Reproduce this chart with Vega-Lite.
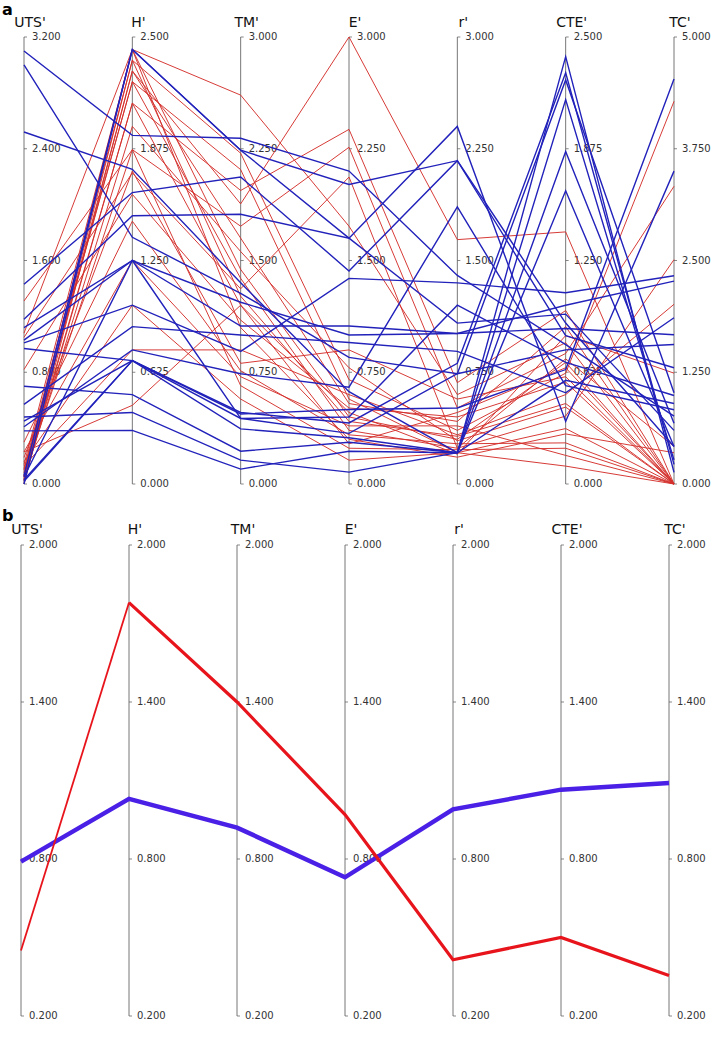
{
  "$schema": "https://vega.github.io/schema/vega-lite/v6.json",
  "width": 711,
  "height": 1041,
  "autosize": {"type": "none"},
  "padding": 0,
  "background": "white",
  "config": {"view": {"stroke": null}, "text": {"font": "DejaVu Sans"}},
  "datasets": {
    "axesA": [
      {"key": "U", "title": "UTS'", "min": 0, "max": 3.2, "i": 0},
      {"key": "H", "title": "H'", "min": 0, "max": 2.5, "i": 1},
      {"key": "TM", "title": "TM'", "min": 0, "max": 3, "i": 2},
      {"key": "E", "title": "E'", "min": 0, "max": 3, "i": 3},
      {"key": "r", "title": "r'", "min": 0, "max": 3, "i": 4},
      {"key": "CTE", "title": "CTE'", "min": 0, "max": 2.5, "i": 5},
      {"key": "TC", "title": "TC'", "min": 0, "max": 5, "i": 6}
    ],
    "axesB": [
      {"key": "U", "title": "UTS'", "min": 0.2, "max": 2, "i": 0},
      {"key": "H", "title": "H'", "min": 0.2, "max": 2, "i": 1},
      {"key": "TM", "title": "TM'", "min": 0.2, "max": 2, "i": 2},
      {"key": "E", "title": "E'", "min": 0.2, "max": 2, "i": 3},
      {"key": "r", "title": "r'", "min": 0.2, "max": 2, "i": 4},
      {"key": "CTE", "title": "CTE'", "min": 0.2, "max": 2, "i": 5},
      {"key": "TC", "title": "TC'", "min": 0.2, "max": 2, "i": 6}
    ],
    "ticksA": [
      {"key": "U", "value": 0}, {"key": "U", "value": 0.8}, {"key": "U", "value": 1.6}, {"key": "U", "value": 2.4}, {"key": "U", "value": 3.2},
      {"key": "H", "value": 0}, {"key": "H", "value": 0.625}, {"key": "H", "value": 1.25}, {"key": "H", "value": 1.875}, {"key": "H", "value": 2.5},
      {"key": "TM", "value": 0}, {"key": "TM", "value": 0.75}, {"key": "TM", "value": 1.5}, {"key": "TM", "value": 2.25}, {"key": "TM", "value": 3},
      {"key": "E", "value": 0}, {"key": "E", "value": 0.75}, {"key": "E", "value": 1.5}, {"key": "E", "value": 2.25}, {"key": "E", "value": 3},
      {"key": "r", "value": 0}, {"key": "r", "value": 0.75}, {"key": "r", "value": 1.5}, {"key": "r", "value": 2.25}, {"key": "r", "value": 3},
      {"key": "CTE", "value": 0}, {"key": "CTE", "value": 0.625}, {"key": "CTE", "value": 1.25}, {"key": "CTE", "value": 1.875}, {"key": "CTE", "value": 2.5},
      {"key": "TC", "value": 0}, {"key": "TC", "value": 1.25}, {"key": "TC", "value": 2.5}, {"key": "TC", "value": 3.75}, {"key": "TC", "value": 5}
    ],
    "ticksB": [
      {"key": "U", "value": 0.2}, {"key": "U", "value": 0.8}, {"key": "U", "value": 1.4}, {"key": "U", "value": 2},
      {"key": "H", "value": 0.2}, {"key": "H", "value": 0.8}, {"key": "H", "value": 1.4}, {"key": "H", "value": 2},
      {"key": "TM", "value": 0.2}, {"key": "TM", "value": 0.8}, {"key": "TM", "value": 1.4}, {"key": "TM", "value": 2},
      {"key": "E", "value": 0.2}, {"key": "E", "value": 0.8}, {"key": "E", "value": 1.4}, {"key": "E", "value": 2},
      {"key": "r", "value": 0.2}, {"key": "r", "value": 0.8}, {"key": "r", "value": 1.4}, {"key": "r", "value": 2},
      {"key": "CTE", "value": 0.2}, {"key": "CTE", "value": 0.8}, {"key": "CTE", "value": 1.4}, {"key": "CTE", "value": 2},
      {"key": "TC", "value": 0.2}, {"key": "TC", "value": 0.8}, {"key": "TC", "value": 1.4}, {"key": "TC", "value": 2}
    ],
    "linesA": [
      {"id": "B1", "c": "blue", "U": 3.10, "H": 1.95, "TM": 2.32, "E": 2.10, "r": 1.40, "CTE": 0.78, "TC": 0.76},
      {"id": "B2", "c": "blue", "U": 3.00, "H": 1.38, "TM": 1.28, "E": 0.85, "r": 0.74, "CTE": 2.26, "TC": 1.02},
      {"id": "B3", "c": "blue", "U": 2.52, "H": 1.76, "TM": 1.35, "E": 0.62, "r": 0.21, "CTE": 2.15, "TC": 0.27},
      {"id": "B4", "c": "blue", "U": 1.43, "H": 1.63, "TM": 2.06, "E": 1.43, "r": 2.17, "CTE": 0.90, "TC": 0.42},
      {"id": "B5", "c": "blue", "U": 1.18, "H": 1.50, "TM": 1.81, "E": 1.65, "r": 2.40, "CTE": 0.35, "TC": 3.50},
      {"id": "B6", "c": "blue", "U": 1.12, "H": 1.25, "TM": 1.22, "E": 1.00, "r": 1.01, "CTE": 1.00, "TC": 2.27},
      {"id": "B7", "c": "blue", "U": 1.03, "H": 1.25, "TM": 1.06, "E": 1.06, "r": 1.01, "CTE": 0.87, "TC": 1.67},
      {"id": "B8", "c": "blue", "U": 1.01, "H": 1.00, "TM": 0.89, "E": 1.38, "r": 1.35, "CTE": 1.07, "TC": 2.33},
      {"id": "B9", "c": "blue", "U": 0.97, "H": 0.69, "TM": 0.48, "E": 0.41, "r": 0.81, "CTE": 2.30, "TC": 0.22},
      {"id": "B10", "c": "blue", "U": 0.70, "H": 0.50, "TM": 0.22, "E": 0.28, "r": 0.21, "CTE": 2.39, "TC": 0.13},
      {"id": "B11", "c": "blue", "U": 0.57, "H": 0.88, "TM": 1.00, "E": 0.95, "r": 0.89, "CTE": 0.51, "TC": 1.86},
      {"id": "B12", "c": "blue", "U": 0.48, "H": 0.40, "TM": 0.16, "E": 0.08, "r": 0.21, "CTE": 1.86, "TC": 0.68},
      {"id": "B13", "c": "blue", "U": 0.45, "H": 0.69, "TM": 0.47, "E": 0.50, "r": 0.51, "CTE": 0.64, "TC": 4.53},
      {"id": "B14", "c": "blue", "U": 0.41, "H": 0.75, "TM": 0.74, "E": 0.65, "r": 1.86, "CTE": 0.55, "TC": 0.83},
      {"id": "B15", "c": "blue", "U": 0.38, "H": 0.30, "TM": 0.10, "E": 0.22, "r": 0.21, "CTE": 1.64, "TC": 0.42},
      {"id": "B16", "c": "blue", "U": 0.06, "H": 2.43, "TM": 2.24, "E": 2.01, "r": 2.17, "CTE": 0.83, "TC": 1.30},
      {"id": "B17", "c": "blue", "U": 0.05, "H": 1.25, "TM": 0.44, "E": 0.34, "r": 0.74, "CTE": 0.75, "TC": 1.56},
      {"id": "B18", "c": "blue", "U": 0.03, "H": 0.69, "TM": 0.37, "E": 0.31, "r": 0.21, "CTE": 0.58, "TC": 0.90},
      {"id": "B19", "c": "blue", "U": 0.02, "H": 0.69, "TM": 0.44, "E": 0.45, "r": 1.20, "CTE": 0.68, "TC": 0.99},
      {"id": "B20", "c": "blue", "U": 0.00, "H": 2.43, "TM": 2.24, "E": 1.65, "r": 1.08, "CTE": 0.95, "TC": 0.60},
      {"id": "R1", "c": "red", "U": 0.06, "H": 2.43, "TM": 2.61, "E": 1.73, "r": 0.60, "CTE": 0.79, "TC": 0},
      {"id": "R2", "c": "red", "U": 0.03, "H": 2.37, "TM": 2.22, "E": 0.70, "r": 0.36, "CTE": 0.62, "TC": 4.28},
      {"id": "R3", "c": "red", "U": 0.00, "H": 2.31, "TM": 1.88, "E": 3.00, "r": 1.64, "CTE": 1.41, "TC": 0},
      {"id": "R4", "c": "red", "U": 0.10, "H": 2.25, "TM": 2.11, "E": 0.57, "r": 0.21, "CTE": 0.31, "TC": 0},
      {"id": "R5", "c": "red", "U": 0.02, "H": 2.13, "TM": 1.97, "E": 2.38, "r": 0.68, "CTE": 0.97, "TC": 0},
      {"id": "R6", "c": "red", "U": 1.31, "H": 1.87, "TM": 1.73, "E": 2.26, "r": 0.51, "CTE": 0.73, "TC": 3.33},
      {"id": "R7", "c": "red", "U": 1.08, "H": 2.43, "TM": 1.44, "E": 0.45, "r": 0.30, "CTE": 0.68, "TC": 0},
      {"id": "R8", "c": "red", "U": 1.05, "H": 1.74, "TM": 1.31, "E": 2.06, "r": 0.24, "CTE": 0.38, "TC": 2.51},
      {"id": "R9", "c": "red", "U": 0.82, "H": 1.62, "TM": 1.10, "E": 0.51, "r": 0.45, "CTE": 0.57, "TC": 0},
      {"id": "R10", "c": "red", "U": 0.30, "H": 1.47, "TM": 0.76, "E": 0.33, "r": 0.27, "CTE": 0.23, "TC": 0},
      {"id": "R11", "c": "red", "U": 0.23, "H": 1.25, "TM": 0.72, "E": 0.39, "r": 0.39, "CTE": 0.16, "TC": 0},
      {"id": "R12", "c": "red", "U": 0.16, "H": 1.00, "TM": 0.57, "E": 0.16, "r": 0.21, "CTE": 0.10, "TC": 0},
      {"id": "R13", "c": "red", "U": 0.13, "H": 0.75, "TM": 0.90, "E": 0.60, "r": 0.33, "CTE": 0.50, "TC": 2.01},
      {"id": "R14", "c": "red", "U": 0.23, "H": 0.44, "TM": 1.20, "E": 0.48, "r": 0.20, "CTE": 0.83, "TC": 1.24},
      {"id": "R15", "c": "red", "U": 0.05, "H": 2.31, "TM": 1.65, "E": 0.54, "r": 0.42, "CTE": 0.88, "TC": 0},
      {"id": "R16", "c": "red", "U": 0.08, "H": 2.25, "TM": 1.38, "E": 0.36, "r": 0.24, "CTE": 0.70, "TC": 0.42},
      {"id": "R17", "c": "red", "U": 0.11, "H": 2.37, "TM": 1.26, "E": 0.42, "r": 0.32, "CTE": 0.45, "TC": 0},
      {"id": "R18", "c": "red", "U": 0.03, "H": 2.00, "TM": 1.56, "E": 0.78, "r": 0.29, "CTE": 0.43, "TC": 0},
      {"id": "R19", "c": "red", "U": 0.14, "H": 2.43, "TM": 1.05, "E": 0.30, "r": 0.18, "CTE": 0.28, "TC": 0.35},
      {"id": "R20", "c": "red", "U": 0.04, "H": 2.13, "TM": 1.20, "E": 0.27, "r": 0.48, "CTE": 0.65, "TC": 0},
      {"id": "R21", "c": "red", "U": 0.19, "H": 1.75, "TM": 0.81, "E": 0.90, "r": 0.57, "CTE": 0.60, "TC": 0},
      {"id": "R22", "c": "red", "U": 0.06, "H": 1.87, "TM": 0.66, "E": 0.24, "r": 0.23, "CTE": 0.20, "TC": 0}
    ],
    "linesB": [
      {"id": "blue", "c": "blue", "U": 0.79, "H": 1.03, "TM": 0.92, "E": 0.73, "r": 0.99, "CTE": 1.065, "TC": 1.09},
      {"id": "red", "c": "red", "U": 0.45, "H": 1.78, "TM": 1.40, "E": 0.97, "r": 0.415, "CTE": 0.50, "TC": 0.355}
    ]
  },
  "layer": [
    {
      "layer": [
        {
          "data": {"name": "axesA"},
          "mark": {"type": "rule", "color": "#777777", "strokeWidth": 1},
          "encoding": {
            "x": {"field": "key", "type": "nominal", "scale": {"type": "point", "domain": ["U", "H", "TM", "E", "r", "CTE", "TC"], "range": [24, 674], "padding": 0}, "axis": null},
            "y": {"datum": 0, "type": "quantitative", "scale": {"domain": [0, 1], "range": [484, 37], "nice": false, "zero": false}, "axis": null},
            "y2": {"datum": 1}
          }
        },
        {
          "data": {"name": "ticksA"},
          "transform": [
            {"lookup": "key", "from": {"data": {"name": "axesA"}, "key": "key", "fields": ["min", "max"]}},
            {"calculate": "(datum.value - datum.min) / (datum.max - datum.min)", "as": "frac"}
          ],
          "mark": {"type": "tick", "orient": "horizontal", "size": 3, "thickness": 1, "xOffset": 1.5, "color": "#555555"},
          "encoding": {
            "x": {"field": "key", "type": "nominal"},
            "y": {"field": "frac", "type": "quantitative"}
          }
        },
        {
          "data": {"name": "ticksA"},
          "transform": [
            {"lookup": "key", "from": {"data": {"name": "axesA"}, "key": "key", "fields": ["min", "max"]}},
            {"calculate": "(datum.value - datum.min) / (datum.max - datum.min)", "as": "frac"}
          ],
          "mark": {"type": "text", "align": "left", "baseline": "middle", "dx": 8, "fontSize": 10, "color": "#333333"},
          "encoding": {
            "x": {"field": "key", "type": "nominal"},
            "y": {"field": "frac", "type": "quantitative"},
            "text": {"field": "value", "type": "quantitative", "format": ".3f"}
          }
        },
        {
          "data": {"name": "axesA"},
          "mark": {"type": "text", "align": "center", "baseline": "alphabetic", "dx": 6, "dy": -10, "fontSize": 14, "color": "#111111"},
          "encoding": {
            "x": {"field": "key", "type": "nominal"},
            "y": {"datum": 1, "type": "quantitative"},
            "text": {"field": "title", "type": "nominal"}
          }
        },
        {
          "data": {"values": [{"key": "U", "lab": "a"}]},
          "mark": {"type": "text", "align": "left", "baseline": "alphabetic", "dx": -22, "dy": -22, "fontSize": 16, "fontWeight": "bold", "color": "#000000"},
          "encoding": {
            "x": {"field": "key", "type": "nominal"},
            "y": {"datum": 1, "type": "quantitative"},
            "text": {"field": "lab", "type": "nominal"}
          }
        },
        {
          "data": {"name": "linesA"},
          "transform": [
            {"filter": "datum.c == 'red'"},
            {"fold": ["U", "H", "TM", "E", "r", "CTE", "TC"], "as": ["key", "value"]},
            {"lookup": "key", "from": {"data": {"name": "axesA"}, "key": "key", "fields": ["min", "max", "i"]}},
            {"calculate": "(datum.value - datum.min) / (datum.max - datum.min)", "as": "frac"}
          ],
          "mark": {"type": "line", "color": "#d4302c", "strokeWidth": 1, "opacity": 0.95},
          "encoding": {
            "x": {"field": "key", "type": "nominal"},
            "y": {"field": "frac", "type": "quantitative"},
            "detail": {"field": "id", "type": "nominal"},
            "order": {"field": "i", "type": "quantitative"}
          }
        },
        {
          "data": {"name": "linesA"},
          "transform": [
            {"filter": "datum.c == 'blue'"},
            {"fold": ["U", "H", "TM", "E", "r", "CTE", "TC"], "as": ["key", "value"]},
            {"lookup": "key", "from": {"data": {"name": "axesA"}, "key": "key", "fields": ["min", "max", "i"]}},
            {"calculate": "(datum.value - datum.min) / (datum.max - datum.min)", "as": "frac"}
          ],
          "mark": {"type": "line", "color": "#2222bb", "strokeWidth": 1.4},
          "encoding": {
            "x": {"field": "key", "type": "nominal"},
            "y": {"field": "frac", "type": "quantitative"},
            "detail": {"field": "id", "type": "nominal"},
            "order": {"field": "i", "type": "quantitative"}
          }
        }
      ]
    },
    {
      "layer": [
        {
          "data": {"name": "axesB"},
          "mark": {"type": "rule", "color": "#777777", "strokeWidth": 1},
          "encoding": {
            "x": {"field": "key", "type": "nominal", "scale": {"type": "point", "domain": ["U", "H", "TM", "E", "r", "CTE", "TC"], "range": [21, 669], "padding": 0}, "axis": null},
            "y": {"datum": 0, "type": "quantitative", "scale": {"domain": [0, 1], "range": [1016, 545], "nice": false, "zero": false}, "axis": null},
            "y2": {"datum": 1}
          }
        },
        {
          "data": {"name": "ticksB"},
          "transform": [
            {"lookup": "key", "from": {"data": {"name": "axesB"}, "key": "key", "fields": ["min", "max"]}},
            {"calculate": "(datum.value - datum.min) / (datum.max - datum.min)", "as": "frac"}
          ],
          "mark": {"type": "tick", "orient": "horizontal", "size": 3, "thickness": 1, "xOffset": 1.5, "color": "#555555"},
          "encoding": {
            "x": {"field": "key", "type": "nominal"},
            "y": {"field": "frac", "type": "quantitative"}
          }
        },
        {
          "data": {"name": "ticksB"},
          "transform": [
            {"lookup": "key", "from": {"data": {"name": "axesB"}, "key": "key", "fields": ["min", "max"]}},
            {"calculate": "(datum.value - datum.min) / (datum.max - datum.min)", "as": "frac"}
          ],
          "mark": {"type": "text", "align": "left", "baseline": "middle", "dx": 8, "fontSize": 10, "color": "#333333"},
          "encoding": {
            "x": {"field": "key", "type": "nominal"},
            "y": {"field": "frac", "type": "quantitative"},
            "text": {"field": "value", "type": "quantitative", "format": ".3f"}
          }
        },
        {
          "data": {"name": "axesB"},
          "mark": {"type": "text", "align": "center", "baseline": "alphabetic", "dx": 6, "dy": -11, "fontSize": 14, "color": "#111111"},
          "encoding": {
            "x": {"field": "key", "type": "nominal"},
            "y": {"datum": 1, "type": "quantitative"},
            "text": {"field": "title", "type": "nominal"}
          }
        },
        {
          "data": {"values": [{"key": "U", "lab": "b"}]},
          "mark": {"type": "text", "align": "left", "baseline": "alphabetic", "dx": -19, "dy": -24, "fontSize": 16, "fontWeight": "bold", "color": "#000000"},
          "encoding": {
            "x": {"field": "key", "type": "nominal"},
            "y": {"datum": 1, "type": "quantitative"},
            "text": {"field": "lab", "type": "nominal"}
          }
        },
        {
          "data": {"name": "linesB"},
          "transform": [
            {"filter": "datum.c == 'blue'"},
            {"fold": ["U", "H", "TM", "E", "r", "CTE", "TC"], "as": ["key", "value"]},
            {"lookup": "key", "from": {"data": {"name": "axesB"}, "key": "key", "fields": ["min", "max", "i"]}},
            {"calculate": "(datum.value - datum.min) / (datum.max - datum.min)", "as": "frac"}
          ],
          "mark": {"type": "line", "color": "#4a20e6", "strokeWidth": 4.5},
          "encoding": {
            "x": {"field": "key", "type": "nominal"},
            "y": {"field": "frac", "type": "quantitative"},
            "detail": {"field": "id", "type": "nominal"},
            "order": {"field": "i", "type": "quantitative"}
          }
        },
        {
          "data": {"name": "linesB"},
          "transform": [
            {"filter": "datum.c == 'red'"},
            {"fold": ["U", "H", "TM", "E", "r", "CTE", "TC"], "as": ["key", "value"]},
            {"filter": "datum.key == 'U' || datum.key == 'H'"},
            {"lookup": "key", "from": {"data": {"name": "axesB"}, "key": "key", "fields": ["min", "max", "i"]}},
            {"calculate": "(datum.value - datum.min) / (datum.max - datum.min)", "as": "frac"}
          ],
          "mark": {"type": "line", "color": "#e8141c", "strokeWidth": 1.8},
          "encoding": {
            "x": {"field": "key", "type": "nominal"},
            "y": {"field": "frac", "type": "quantitative"},
            "detail": {"field": "id", "type": "nominal"},
            "order": {"field": "i", "type": "quantitative"}
          }
        },
        {
          "data": {"name": "linesB"},
          "transform": [
            {"filter": "datum.c == 'red'"},
            {"fold": ["U", "H", "TM", "E", "r", "CTE", "TC"], "as": ["key", "value"]},
            {"filter": "datum.key != 'U'"},
            {"lookup": "key", "from": {"data": {"name": "axesB"}, "key": "key", "fields": ["min", "max", "i"]}},
            {"calculate": "(datum.value - datum.min) / (datum.max - datum.min)", "as": "frac"}
          ],
          "mark": {"type": "line", "color": "#e8141c", "strokeWidth": 3.2},
          "encoding": {
            "x": {"field": "key", "type": "nominal"},
            "y": {"field": "frac", "type": "quantitative"},
            "detail": {"field": "id", "type": "nominal"},
            "order": {"field": "i", "type": "quantitative"}
          }
        }
      ]
    }
  ],
  "resolve": {"scale": {"x": "independent", "y": "independent"}}
}
